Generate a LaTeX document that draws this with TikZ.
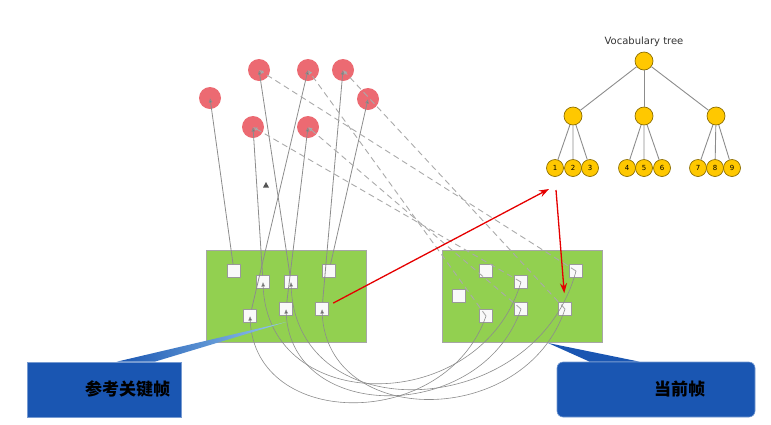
\documentclass[tikz,border=0pt]{standalone}
\usepackage{fontspec}
\setmainfont{DejaVu Sans}
\newfontfamily\cjk{Noto Sans CJK SC}
\usetikzlibrary{arrows.meta}

\definecolor{framegreen}{RGB}{146,208,80}
\definecolor{markred}{RGB}{236,106,114}
\definecolor{wordgold}{RGB}{255,200,0}
\definecolor{noteblue}{RGB}{26,86,178}
\definecolor{tipblue}{RGB}{150,200,240}
\definecolor{linkgray}{RGB}{140,140,140}
\definecolor{dashgray}{RGB}{170,170,170}
\definecolor{tipgray}{RGB}{85,85,85}

\begin{document}
\begin{tikzpicture}[x=1pt,y=-1pt]
    \tikzstyle{framebox} = [draw=gray!70, fill=framegreen, line width=0.7pt, minimum width=160pt, minimum height=92pt]
    \tikzstyle{feat} = [draw=gray!80, fill=gray!5, minimum size=13pt, inner sep=0pt, line width=0.6pt]
    \tikzstyle{landmark} = [circle, fill=markred, minimum size=22pt, inner sep=0pt]
    \tikzstyle{word} = [circle, draw=black!45!wordgold, fill=wordgold, minimum size=18pt, inner sep=0pt, line width=0.7pt]
    \tikzstyle{leaf} = [word, minimum size=17pt, font=\fontsize{7}{8}\selectfont]
    \tikzstyle{branch} = [draw=linkgray, line width=0.9pt]
    \tikzstyle{obs} = [draw=linkgray, line width=0.8pt, -{Latex[length=4.5pt,width=4pt,fill=tipgray]}]
    \tikzstyle{match} = [draw=dashgray, line width=0.9pt, dash pattern=on 6pt off 4pt, -{Latex[length=4.5pt,width=4pt,fill=tipgray]}]
    \tikzstyle{track} = [draw=linkgray, line width=0.6pt, -{Latex[length=4.5pt,width=4pt,fill=tipgray]}]
    \tikzstyle{hint} = [draw=red!90!black, line width=1.3pt, -{Stealth[length=10pt,width=7pt]}]
    \tikzstyle{note} = [fill=noteblue, draw=noteblue!60!white, line width=0.6pt, minimum height=55pt, inner sep=0pt,
        font=\cjk\bfseries\fontsize{17}{20}\selectfont, align=right]

    \useasboundingbox (0,0) rectangle (771,424);

    % frames
    \node[framebox] (kf) at (286,296) {};
    \node[framebox] (cf) at (522,296) {};

    % features in the reference keyframe
    \node[feat] (kf1) at (234,271) {};
    \node[feat] (kf2) at (263,282) {};
    \node[feat] (kf3) at (291,282) {};
    \node[feat] (kf4) at (329,271) {};
    \node[feat] (kf5) at (250,316) {};
    \node[feat] (kf6) at (286,309) {};
    \node[feat] (kf7) at (322,309) {};

    % features in the current frame
    \node[feat] (cf1) at (486,271) {};
    \node[feat] (cf2) at (521,282) {};
    \node[feat] (cf3) at (576,271) {};
    \node[feat] (cf4) at (459,296) {};
    \node[feat] (cf5) at (486,316) {};
    \node[feat] (cf6) at (521,309) {};
    \node[feat] (cf7) at (565,309) {};

    % map points
    \node[landmark] (p1) at (210,98) {};
    \node[landmark] (p2) at (259,70) {};
    \node[landmark] (p3) at (308,70) {};
    \node[landmark] (p4) at (343,70) {};
    \node[landmark] (p5) at (368,99) {};
    \node[landmark] (p6) at (253,127) {};
    \node[landmark] (p7) at (308,127) {};

    \draw[obs] (kf1) -- (p1.center);
    \draw[obs] (kf2) -- (p6.center);
    \draw[obs] (kf3) -- (p2.center);
    \draw[obs] (kf5) -- (p3.center);
    \draw[obs] (kf6) -- (p7.center);
    \draw[obs] (kf7) -- (p4.center);
    \draw[obs] (kf4) -- (p5.center);
    \fill[tipgray] (263,187.5) -- (269,187.5) -- (266,182) -- cycle;

    \draw[match] (cf3.center) -- (p2.center);
    \draw[match] (cf5.center) -- (p3.center);
    \draw[match] (cf7.center) -- (p4.center);
    \draw[match] (cf2.center) -- (p6.center);
    \draw[match] (cf6.center) -- (p7.center);

    \draw[track] (cf3.center) .. controls +(-40,150) and +(5,150) .. (kf3.center);
    \draw[track] (cf5.center) .. controls +(-40,115) and +(5,115) .. (kf5.center);
    \draw[track] (cf7.center) .. controls +(-40,120) and +(5,120) .. (kf7.center);
    \draw[track] (cf2.center) .. controls +(-40,135) and +(5,135) .. (kf2.center);
    \draw[track] (cf6.center) .. controls +(-40,115) and +(5,115) .. (kf6.center);

    % vocabulary tree
    \node[font=\fontsize{10}{12}\selectfont, text=black!80] (title) at (644,42) {Vocabulary tree};
    \node[word] (root) at (644,61) {};
    \node[word] (w1) at (573,116) {};
    \node[word] (w2) at (644,116) {};
    \node[word] (w3) at (716,116) {};
    \node[leaf] (l1) at (555,168) {1};
    \node[leaf] (l2) at (573,168) {2};
    \node[leaf] (l3) at (590,168) {3};
    \node[leaf] (l4) at (627,168) {4};
    \node[leaf] (l5) at (644,168) {5};
    \node[leaf] (l6) at (662,168) {6};
    \node[leaf] (l7) at (698,168) {7};
    \node[leaf] (l8) at (715,168) {8};
    \node[leaf] (l9) at (732,168) {9};
    \foreach \w in {w1,w2,w3}
        \draw[branch] (root) -- (\w);
    \draw[branch] (w1) -- (l1) (w1) -- (l2) (w1) -- (l3);
    \draw[branch] (w2) -- (l4) (w2) -- (l5) (w2) -- (l6);
    \draw[branch] (w3) -- (l7) (w3) -- (l8) (w3) -- (l9);

    % query and retrieval
    \coordinate (query) at (549,189);
    \coordinate (answer) at (556,190);
    \draw[hint, shorten <=5pt] (kf7) -- (query);
    \draw[hint, shorten >=9pt] (answer) -- (cf7.north);

    % callouts
    \node[note, minimum width=154pt, text width=132pt] (kfnote) at (104,389.5) {参考关键帧};
    \coordinate (kftip) at (286,322);
    \shade[left color=noteblue, middle color=noteblue, right color=tipblue] ([xshift=90pt]kfnote.north west) -- (kftip) -- ([xshift=128pt]kfnote.north west) -- cycle;

    \node[note, rounded corners=6pt, minimum width=198pt, text width=98pt] (cfnote) at (656,389.5) {当前帧};
    \coordinate (cftip) at (548,343);
    \fill[noteblue] ([xshift=33pt]cfnote.north west) -- (cftip) -- ([xshift=83pt]cfnote.north west) -- cycle;
\end{tikzpicture}
\end{document}
